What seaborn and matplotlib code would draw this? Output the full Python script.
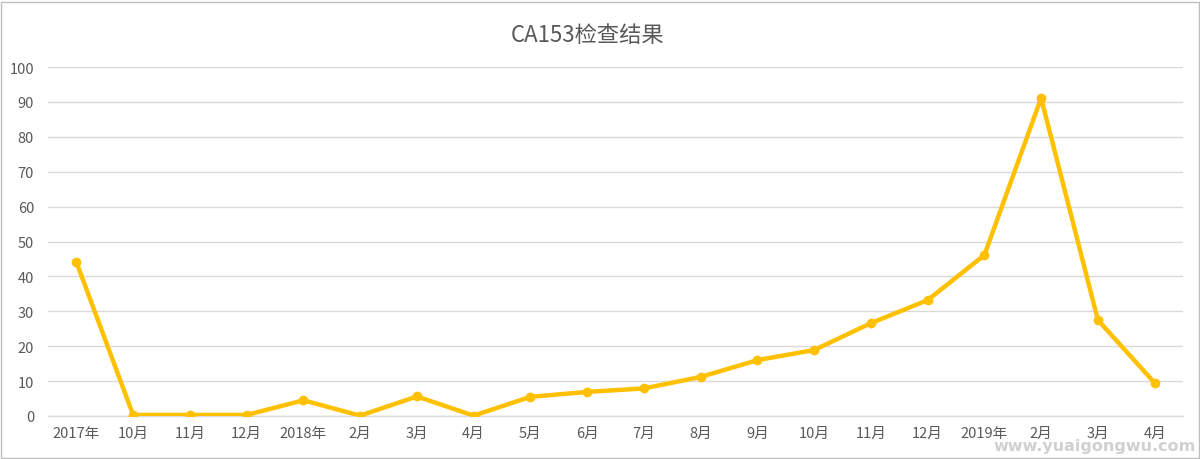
import numpy as np
import pandas as pd
import matplotlib
matplotlib.use("Agg")
import matplotlib.pyplot as plt
import seaborn as sns
from matplotlib.patches import Rectangle

# CA153 readings per check-up
labels = ["2017年", "10月", "11月", "12月", "2018年", "2月", "3月", "4月", "5月", "6月",
          "7月", "8月", "9月", "10月", "11月", "12月", "2019年", "2月", "3月", "4月"]
values = [44.1, 0.3, 0.3, 0.3, 4.5, 0.1, 5.6, 0.1, 5.5, 6.9,
          7.9, 11.2, 16.0, 18.9, 26.6, 33.2, 46.1, 91.1, 27.5, 9.5]
title = "CA153检查结果"
yticks = list(range(0, 101, 10))

sns.set_theme(style="white")
plt.rcParams["font.family"] = ["Noto Sans CJK SC", "DejaVu Sans"]

text_color = "#595959"
line_color = "#FFC000"
grid_color = "#D9D9D9"

df = pd.DataFrame({"pos": np.arange(len(labels)), "value": values})

fig = plt.figure(figsize=(12, 4.6), dpi=100)
ax = fig.add_axes([48 / 1200, 43 / 460, 1135 / 1200, 349 / 460])

sns.lineplot(data=df, x="pos", y="value", ax=ax, color=line_color, linewidth=3.2,
             marker="o", markersize=7, markeredgewidth=0, zorder=3)

ax.set_xlim(-0.5, len(labels) - 0.5)
ax.set_ylim(0, 100)
ax.set_yticks(yticks)
ax.set_xticks(df["pos"])
ax.set_xticklabels(labels)
ax.grid(axis="y", color=grid_color, linewidth=1)
ax.grid(axis="x", visible=False)
ax.axhline(0, color=grid_color, linewidth=1, clip_on=False, zorder=1)
for s in ax.spines.values():
    s.set_visible(False)
ax.tick_params(axis="both", length=0, labelsize=10.5, labelcolor=text_color)
ax.tick_params(axis="y", pad=10)
ax.tick_params(axis="x", pad=7)
ax.set_xlabel("")
ax.set_ylabel("")

fig.text(588 / 1200, 1 - 35 / 460, title, ha="center", va="center",
         fontsize=16, color=text_color)

# light frame around the chart area
fig.patches.append(Rectangle((0.0008, 0.003), 0.998, 0.991, transform=fig.transFigure,
                             fill=False, edgecolor="#BFBFBF", linewidth=1))

fig.text(0.996, 0.012, "www.yuaigongwu.com", ha="right", va="bottom",
         fontsize=11.5, fontweight="bold", color="#D0D0D0", family="DejaVu Sans")

fig.savefig("out.png", dpi=100, facecolor="white")
